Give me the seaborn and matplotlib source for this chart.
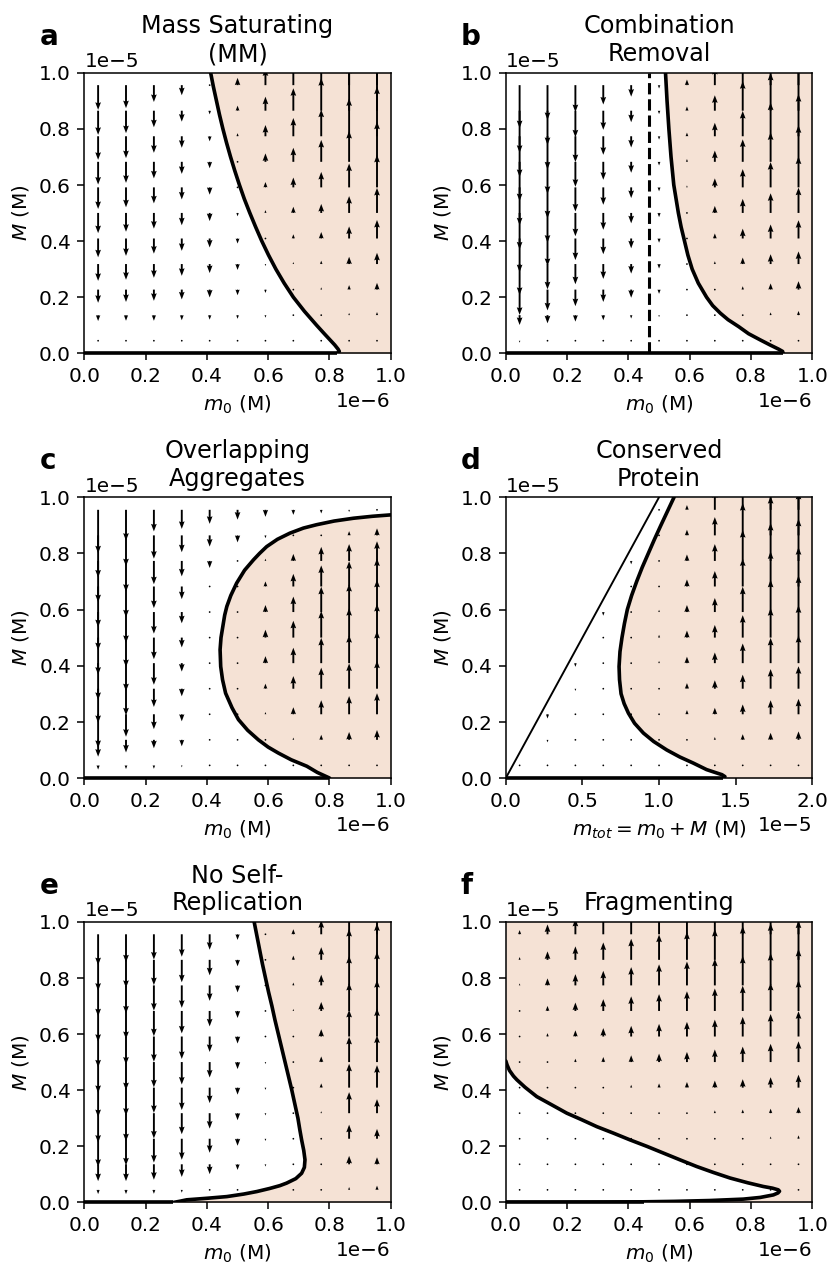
import numpy as np
import matplotlib
matplotlib.use("Agg")
import matplotlib.pyplot as plt
import seaborn as sns

nan = np.nan

# quiver grid (fraction of the axis range), same for both axes
GRID = [0.045, 0.136, 0.227, 0.318, 0.409, 0.5, 0.591, 0.682, 0.773, 0.864, 0.955]

# dM/dt arrow lengths in units of 1e-7 M; rows: M = 0.955 (top) ... 0.045 (bottom)
V_A = [
    [-8.8, -8.2, -6.0, -3.6, -0.6, 2.6, 6.0, 9.5, 14.0, 18.5, 23.0],
    [-8.6, -8.0, -5.9, -3.9, -1.3, 1.8, 5.0, 8.0, 11.6, 16.0, 20.5],
    [-8.4, -7.8, -5.9, -4.1, -1.8, 1.1, 4.0, 6.5, 9.5, 13.5, 17.7],
    [-8.1, -7.5, -5.9, -4.3, -2.3, 0.5, 3.0, 5.0, 7.8, 11.0, 14.3],
    [-7.7, -7.1, -5.7, -4.3, -2.6, -0.4, 1.9, 3.5, 5.5, 8.5, 11.6],
    [-7.2, -6.7, -5.6, -4.4, -2.9, -1.2, 1.0, 2.2, 3.2, 6.0, 8.9],
    [-6.7, -6.2, -5.4, -4.4, -3.2, -1.8, 0.3, 1.5, 2.3, 4.3, 6.6],
    [-6.0, -5.6, -4.9, -4.2, -3.2, -2.1, -0.7, 0.7, 1.2, 2.6, 4.0],
    [-4.7, -4.4, -4.0, -3.5, -2.8, -2.0, -1.2, 0.2, 0.8, 1.6, 2.4],
    [-2.1, -2.0, -2.0, -1.8, -1.6, -1.3, -0.9, -0.3, 0.3, 0.8, 1.1],
    [-0.3, -0.3, -0.3, -0.3, -0.2, -0.2, -0.1, -0.1, 0.0, 0.1, 0.2],
]
V_B = [
    [-15.3, -12.4, -9.6, -6.9, -4.1, -1.2, 2.0, 6.5, 12.0, 15.0, 19.0],
    [-15.0, -12.2, -9.5, -6.8, -4.1, -1.2, 1.5, 5.5, 10.5, 13.5, 17.0],
    [-14.5, -11.8, -9.2, -6.6, -4.0, -1.2, 1.3, 4.8, 9.0, 12.0, 15.0],
    [-14.0, -11.4, -8.9, -6.4, -3.9, -1.3, 1.0, 4.0, 8.0, 10.5, 13.0],
    [-13.5, -11.0, -8.6, -6.2, -3.8, -1.4, 0.7, 3.2, 6.5, 9.0, 11.0],
    [-13.0, -10.6, -8.3, -6.0, -3.7, -1.5, 0.4, 2.5, 5.0, 7.0, 9.0],
    [-12.0, -9.8, -7.7, -5.6, -3.5, -1.5, 0.1, 1.8, 3.5, 5.0, 6.5],
    [-11.0, -9.0, -7.2, -5.3, -3.4, -1.6, -0.1, 1.0, 2.3, 3.5, 4.5],
    [-9.0, -7.4, -5.9, -4.4, -2.9, -1.5, -0.4, 0.3, 1.2, 2.2, 3.0],
    [-3.5, -2.9, -2.3, -1.8, -1.2, -0.7, -0.3, 0.0, 0.5, 1.0, 1.5],
    [-0.7, -0.6, -0.5, -0.4, -0.3, -0.2, -0.1, -0.1, 0.0, 0.1, 0.2],
]
V_C = [
    [-15.5, -11.0, -7.7, -6.8, -5.0, -3.5, -2.5, -1.8, -1.3, -0.8, -0.4],
    [-15.0, -11.0, -8.3, -6.0, -4.0, -2.5, -1.0, 0.0, 0.5, 1.5, 2.5],
    [-14.7, -11.0, -8.3, -5.5, -2.5, -0.6, 0.8, 2.5, 5.0, 6.0, 7.0],
    [-14.5, -11.0, -7.7, -4.5, -0.5, 0.1, 1.8, 4.5, 7.5, 9.0, 10.0],
    [-13.6, -11.0, -7.7, -4.0, -0.4, 0.3, 2.5, 5.5, 9.0, 10.0, 11.5],
    [-13.2, -10.5, -7.7, -3.5, -0.3, 0.5, 2.8, 6.0, 9.5, 10.5, 12.0],
    [-13.1, -10.0, -7.7, -3.0, -0.3, 0.5, 2.5, 5.5, 9.0, 10.0, 11.5],
    [-12.2, -9.5, -6.5, -2.7, -0.3, 0.3, 1.8, 4.5, 7.5, 9.0, 10.0],
    [-12.0, -8.0, -5.3, -2.5, -0.4, 0.0, 0.8, 2.5, 5.0, 6.5, 7.5],
    [-6.0, -4.5, -3.0, -2.3, -0.5, -0.3, 0.1, 0.8, 1.8, 2.8, 3.5],
    [-1.5, -1.3, -1.2, -0.7, -0.5, -0.3, -0.1, 0.0, 0.1, 0.2, 0.3],
]
V_D = [
    [nan, nan, nan, nan, nan, -0.1, 1.7, 7.0, 12.0, 14.5, 16.0],
    [nan, nan, nan, nan, nan, -0.1, 2.0, 6.5, 11.5, 14.0, 15.5],
    [nan, nan, nan, nan, -1.2, 0.1, 2.3, 6.0, 11.0, 13.5, 15.0],
    [nan, nan, nan, nan, -0.3, 0.5, 2.5, 5.5, 10.0, 12.5, 14.0],
    [nan, nan, nan, -1.3, 0.1, 0.8, 2.5, 5.0, 9.0, 11.5, 13.0],
    [nan, nan, nan, -0.4, 0.2, 1.0, 2.5, 4.5, 8.0, 10.5, 11.5],
    [nan, nan, -1.3, -0.3, 0.2, 0.8, 2.3, 3.8, 7.0, 9.0, 10.0],
    [nan, nan, -0.8, -0.3, 0.1, 0.3, 2.0, 3.0, 5.0, 7.0, 8.0],
    [nan, -1.5, -0.5, -0.3, -0.1, 0.1, 1.5, 2.3, 3.5, 5.0, 5.5],
    [nan, -0.9, -0.1, -0.2, -0.2, -0.1, 0.3, 1.0, 2.0, 2.5, 3.0],
    [0.0, 0.0, 0.0, 0.0, 0.0, 0.0, 0.0, 0.1, 0.1, 0.2, 0.2],
]
V_E = [
    [-11.0, -10.0, -9.0, -8.0, -5.5, -2.0, 0.3, 1.8, 5.0, 12.0, 14.0],
    [-11.0, -10.0, -9.0, -8.0, -5.5, -2.3, -0.1, 1.5, 4.5, 11.0, 13.0],
    [-11.0, -10.0, -9.0, -8.0, -5.5, -2.5, -0.4, 1.0, 3.8, 10.5, 12.0],
    [-11.0, -10.0, -9.0, -8.0, -5.5, -2.5, -0.5, 0.7, 3.2, 10.0, 11.0],
    [-11.0, -10.0, -9.0, -8.0, -5.5, -2.5, -0.6, 0.4, 2.6, 9.5, 10.0],
    [-11.0, -10.0, -9.0, -8.0, -5.5, -2.5, -0.7, 0.2, 2.0, 9.0, 9.5],
    [-10.5, -10.0, -9.0, -8.0, -5.5, -2.5, -0.8, 0.1, 1.5, 8.5, 8.0],
    [-10.5, -10.0, -9.0, -7.5, -5.5, -2.5, -0.8, -0.1, 0.7, 7.5, 5.0],
    [-10.0, -9.5, -8.5, -7.5, -5.0, -2.5, -0.8, -0.2, 0.3, 5.0, 3.5],
    [-6.0, -6.0, -5.5, -4.5, -3.5, -2.0, -0.8, -0.2, 0.1, 3.0, 2.5],
    [-1.5, -1.5, -1.4, -1.0, -0.6, -0.4, -0.1, 0.1, 0.0, 1.0, 1.5],
]
V_F = [
    [1.5, 3.5, 5.5, 7.0, 8.5, 10.0, 11.0, 12.0, 13.0, 14.0, 15.0],
    [1.0, 3.0, 4.8, 6.2, 7.5, 9.0, 10.0, 11.0, 12.0, 13.0, 14.0],
    [0.7, 2.5, 4.0, 5.2, 6.5, 7.5, 8.5, 9.5, 10.5, 11.5, 13.0],
    [0.4, 1.8, 3.0, 4.2, 5.2, 6.0, 7.0, 8.0, 9.0, 10.0, 11.0],
    [0.2, 1.2, 2.2, 3.0, 3.8, 4.5, 5.2, 6.0, 7.0, 8.0, 9.0],
    [0.05, 0.6, 1.2, 1.8, 2.4, 3.0, 3.6, 4.5, 5.5, 6.5, 7.4],
    [0.0, 0.1, 0.3, 0.6, 1.0, 1.5, 2.0, 2.5, 3.0, 3.7, 4.6],
    [-0.1, -0.1, 0.0, 0.05, 0.2, 0.4, 0.6, 1.0, 1.3, 1.6, 2.2],
    [-0.1, -0.1, -0.1, -0.1, 0.0, 0.05, 0.1, 0.3, 0.5, 0.8, 1.2],
    [-0.05, -0.1, -0.1, -0.1, -0.1, -0.05, 0.0, 0.05, 0.1, 0.2, 0.3],
    [0.0, 0.0, 0.0, 0.0, 0.0, 0.0, 0.0, 0.0, 0.0, 0.05, 0.1],
]

# nullclines dM/dt = 0: M in 1e-5 M, x in 1e-6 M (panel d: m_tot in 1e-5 M)
CURVE_A_M = [0.0, 0.007, 0.015, 0.03, 0.05, 0.07, 0.1, 0.15, 0.2, 0.25, 0.3, 0.35, 0.4, 0.45,
             0.5, 0.55, 0.6, 0.65, 0.7, 0.75, 0.8, 0.85, 0.9, 0.95, 1.0]
CURVE_A_X = [0.826, 0.832, 0.828, 0.817, 0.80, 0.783, 0.758, 0.718, 0.682, 0.652, 0.625, 0.601,
             0.579, 0.559, 0.54, 0.522, 0.506, 0.491, 0.477, 0.464, 0.452, 0.441, 0.431, 0.421, 0.412]
CURVE_B_M = [0.0, 0.007, 0.015, 0.03, 0.048, 0.07, 0.095, 0.12, 0.143, 0.17, 0.2, 0.25, 0.3,
             0.35, 0.4, 0.45, 0.5, 0.6, 0.7, 0.8, 0.9, 1.0]
CURVE_B_X = [0.905, 0.903, 0.89, 0.862, 0.83, 0.792, 0.76, 0.725, 0.70, 0.675, 0.655, 0.628, 0.608,
             0.594, 0.583, 0.572, 0.563, 0.548, 0.539, 0.532, 0.526, 0.521]
CURVE_C_M = [0.0, 0.005, 0.02, 0.042, 0.065, 0.089, 0.11, 0.136, 0.17, 0.208, 0.25, 0.302, 0.35,
             0.397, 0.457, 0.5, 0.54, 0.58, 0.611, 0.65, 0.694, 0.74, 0.777, 0.80, 0.824, 0.85,
             0.872, 0.89, 0.902, 0.915, 0.925, 0.932, 0.937]
CURVE_C_X = [0.80, 0.79, 0.76, 0.726, 0.675, 0.633, 0.60, 0.568, 0.533, 0.503, 0.482, 0.461, 0.451,
             0.445, 0.443, 0.446, 0.452, 0.458, 0.465, 0.478, 0.497, 0.523, 0.552, 0.572, 0.595, 0.63,
             0.671, 0.715, 0.758, 0.815, 0.878, 0.94, 1.0]
CURVE_D_M = [0.0, 0.005, 0.012, 0.018, 0.03, 0.053, 0.075, 0.1, 0.13, 0.16, 0.195, 0.231, 0.265,
             0.3, 0.35, 0.397, 0.45, 0.5, 0.55, 0.6, 0.65, 0.7, 0.75, 0.8, 0.85, 0.9, 0.95, 1.0]
CURVE_D_X = [1.42, 1.43, 1.41, 1.376, 1.31, 1.224, 1.135, 1.05, 0.965, 0.898, 0.84, 0.80, 0.772,
             0.752, 0.742, 0.739, 0.745, 0.758, 0.774, 0.793, 0.821, 0.854, 0.89, 0.93, 0.97, 1.012,
             1.055, 1.098]
CURVE_E_M = [0.0, 0.004, 0.0095, 0.015, 0.021, 0.03, 0.039, 0.05, 0.06, 0.069, 0.085, 0.104, 0.125,
             0.152, 0.185, 0.223, 0.26, 0.3, 0.35, 0.4, 0.45, 0.5, 0.55, 0.6, 0.65, 0.7, 0.75, 0.8,
             0.85, 0.9, 0.95, 1.0]
CURVE_E_X = [0.29, 0.31, 0.334, 0.40, 0.465, 0.52, 0.563, 0.605, 0.638, 0.66, 0.69, 0.709, 0.718,
             0.72, 0.716, 0.709, 0.703, 0.697, 0.687, 0.677, 0.666, 0.655, 0.644, 0.633, 0.622,
             0.612, 0.601, 0.591, 0.581, 0.572, 0.563, 0.554]
CURVE_F_M = [0.0, 0.0012, 0.0024, 0.004, 0.007, 0.012, 0.018, 0.027, 0.034, 0.04, 0.045, 0.051,
             0.057, 0.07, 0.087, 0.107, 0.128, 0.152, 0.176, 0.2, 0.223, 0.247, 0.27, 0.295, 0.318,
             0.35, 0.377, 0.41, 0.437, 0.45, 0.47, 0.49, 0.504]
CURVE_F_X = [0.0, 0.30, 0.449, 0.55, 0.666, 0.775, 0.83, 0.873, 0.888, 0.893, 0.889, 0.87,
             0.84, 0.79, 0.732, 0.677, 0.623, 0.568, 0.514, 0.46, 0.405, 0.351, 0.297, 0.247, 0.199,
             0.146, 0.101, 0.063, 0.036, 0.025, 0.012, 0.004, 0.0]

# end of the M = 0 branch along the bottom axis
BASE_END = [0.826, 0.905, 0.80, 1.42, 0.29, 0.45]
THRESHOLD_B = 0.467  # dashed vertical line, 1e-6 M

TITLES = ["Mass Saturating\n(MM)", "Combination\nRemoval", "Overlapping\nAggregates",
          "Conserved\nProtein", "No Self-\nReplication", "Fragmenting"]
LETTERS = ["a", "b", "c", "d", "e", "f"]
XLABELS = [r"$m_0$ (M)"] * 3 + [r"$m_{tot} = m_0 + M$ (M)"] + [r"$m_0$ (M)"] * 2
YLABEL = r"$M$ (M)"

BEIGE = "#f5e2d5"

sns.set_theme(style="ticks", rc={
    "axes.edgecolor": "black", "axes.labelcolor": "black", "text.color": "black",
    "xtick.color": "black", "ytick.color": "black",
    "axes.linewidth": 0.8, "xtick.major.width": 0.8, "ytick.major.width": 0.8,
    "xtick.major.size": 3.5, "ytick.major.size": 3.5,
    "xtick.major.pad": 3.5, "ytick.major.pad": 3.5,
    "font.size": 10.5, "axes.labelsize": 10.5, "axes.titlesize": 12.5,
    "xtick.labelsize": 10.5, "ytick.labelsize": 10.5,
    "axes.titlepad": 6.0, "axes.labelpad": 4.0,
    "axes.formatter.limits": [-5, 6],
})
plt.rcParams["font.family"] = ["DejaVu Sans"]

DPI = 137.5
W, H = 827, 1266
fig = plt.figure(figsize=(827.2 / DPI, 1266.2 / DPI), dpi=DPI)

col_left = [84.3, 505.7]
row_top = [72.7, 497.3, 921.7]
aw, ah = 306.4, 280.8

panels = [
    (V_A, CURVE_A_M, CURVE_A_X, 1e-6, 1.0),
    (V_B, CURVE_B_M, CURVE_B_X, 1e-6, 1.0),
    (V_C, CURVE_C_M, CURVE_C_X, 1e-6, 1.0),
    (V_D, CURVE_D_M, CURVE_D_X, 1e-5, 2.0),
    (V_E, CURVE_E_M, CURVE_E_X, 1e-6, 1.0),
    (V_F, CURVE_F_M, CURVE_F_X, 1e-6, 1.0),
]

for k, (V, cM, cX, xunit, xmax) in enumerate(panels):
    r, c = divmod(k, 2)
    l = col_left[c]
    t = row_top[r]
    ax = fig.add_axes([l / W, 1 - (t + ah) / H, aw / W, ah / H])

    xr = xmax * xunit
    cMr = np.array(cM) * 1e-5
    cXr = np.array(cX) * xunit

    # growth region shading (right of / above the nullcline)
    fM, fX = cMr, cXr
    if k == 5:
        fM = np.append(cMr, 1e-5)
        fX = np.append(cXr, 0.0)
    ax.fill_betweenx(fM, fX, xr, color=BEIGE, lw=0, zorder=0)

    # vector field
    gx = np.array(GRID) * xr
    gy = np.array(GRID[::-1]) * 1e-5
    X, Y = np.meshgrid(gx, gy)
    Vm = np.ma.masked_invalid(np.array(V, dtype=float) * 1e-7)
    Um = np.ma.array(np.zeros(Vm.shape), mask=np.ma.getmaskarray(Vm))
    ax.quiver(X, Y, Um, Vm, angles="xy", scale_units="xy", scale=1,
              color="black", width=0.0062, headwidth=3, headlength=4,
              headaxislength=3.6, zorder=3)

    # nullcline
    sns.lineplot(x=cXr, y=cMr, sort=False, estimator=None, color="black",
                 linewidth=1.9, ax=ax, zorder=4)
    ax.plot([0, BASE_END[k] * xunit], [0, 0], color="black", lw=1.9,
            clip_on=False, zorder=4, solid_capstyle="butt")

    if k == 1:
        ax.axvline(THRESHOLD_B * 1e-6, color="black", ls="--", lw=1.6, zorder=4)
    if k == 3:
        ax.plot([0, 1e-5], [0, 1e-5], color="black", lw=1.0, zorder=4)

    ax.set_xlim(0, xr)
    ax.set_ylim(0, 1e-5)
    ax.set_title(TITLES[k])
    ax.set_xlabel(XLABELS[k])
    ax.set_ylabel(YLABEL)

    fig.text((l - 45) / W, 1 - (t - 28) / H, LETTERS[k], fontsize=14.5,
             fontweight="bold", ha="left", va="baseline")

fig.savefig("out.png", dpi=DPI)
